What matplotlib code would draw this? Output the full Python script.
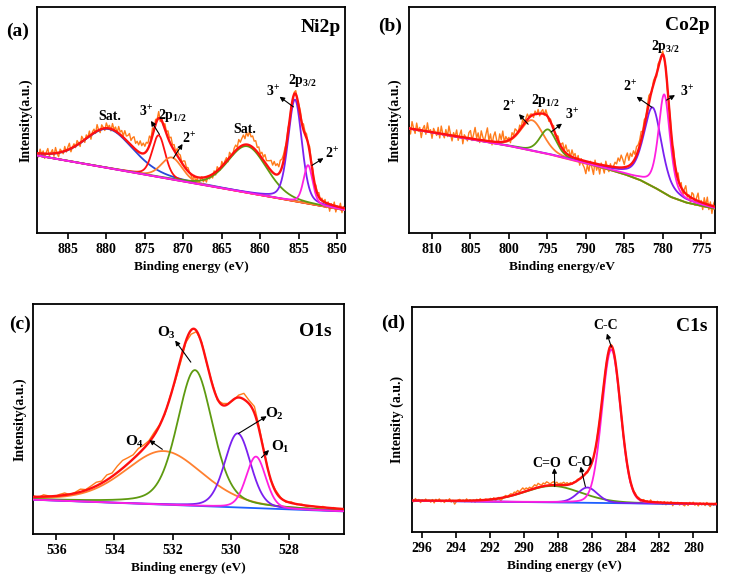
import numpy as np
import matplotlib.pyplot as plt

plt.rcParams['font.family'] = ['Liberation Serif', 'DejaVu Serif']
plt.rcParams['font.weight'] = 'bold'
plt.rcParams['mathtext.fontset'] = 'custom'
plt.rcParams['mathtext.rm'] = 'Liberation Serif:bold'
plt.rcParams['mathtext.it'] = 'Liberation Serif:bold'
plt.rcParams['mathtext.bf'] = 'Liberation Serif:bold'

RAW = '#ff7b1a'
ENV = '#ff1010'
BLUE = '#2848d8'
PURPLE = '#7a20f0'
MAGENTA = '#ff20e0'
GREEN = '#5e9a10'
ORANGE = '#ff8030'
BGBLUE = '#1f5fff'

# ---------------- (a) Ni2p ----------------
ni_xlim = (889.0, 849.0)
ni_ticks = [885, 880, 875, 870, 865, 860, 855, 850]
ni_bg_e = [889.0, 849.0]
ni_bg_y = [34.3, 10.1]
ni_center = [879.7, 873.2, 871.5, 861.7, 855.5, 853.8]
ni_height = [17.3, 18.5, 9.7, 20.6, 45.0, 17.0]
ni_fwhm = [7.5, 2.0, 3.2, 6.0, 2.1, 1.4]
ni_eta = [0.3, 0.3, 0.2, 0.2, 0.3, 0.3]
# residual of the measured spectrum around the fit, every 0.2 eV from 889 to 849
ni_resid = [0.8, -1.6, 1.9, -0.4, 1.2, -2.1, 0.6, 2.3, -0.9, 0.4, 1.7, -1.3, 2.5, -0.2, -1.8, 1.4, 0.3, -1.0, 2.0, -0.7, 1.1, 2.6, -1.5, 0.2, 1.3,
            -0.8, 1.9, 0.4, -1.6, 2.4, 0.7, -1.3, 1.5, -0.2, 2.2, -1.9, 0.9, 1.6, -0.7, 2.8, 0.1, -1.4, 1.8, 0.5, -1.0, 2.3, 0.4,
            1.4, -0.9, 2.6, 0.3, 1.8, -0.4, 3.0, 1.1, 2.4, 0.6, 3.6, 1.9, 2.8, 4.4, 2.0, 3.9, 5.0, 2.7, 4.2, 3.1, 5.3, 3.4, 4.6, 2.9, 4.0,
            2.5, 4.1, 1.0, 3.3, -0.6, 2.2, 0.4, 2.9, -1.4, 1.2, -0.3, 2.4, 0.8, 3.1, 1.6,
            3.4, 1.2, 2.6, 0.5, 3.0, 1.8, 2.4, 0.3, 1.9, 2.8, 0.9, 1.6, 0.2,
            -0.5, -2.2, 0.3, -1.8, -0.6, -2.6, -1.1, 0.4, -1.9, -0.8, -2.3, 0.1, -1.4, -0.3, -1.7,
            1.0, -1.3, 1.8, 0.2, -0.9, 2.2, -0.4, 0.9, 1.6, -1.1, 2.3, 0.5, -0.6, 1.7,
            2.4, 0.8, 3.6, 1.9, 3.2, 4.4, 2.6, 5.4, 3.8, 6.0, 4.1, 5.0, 3.3,
            4.2, 2.0, 3.1, 0.9, 2.6, 1.4, 3.5, 1.8, 2.7, 3.6,
            4.6, 3.2, 5.4, 3.9, 4.8, 3.0, 4.9, 3.6, 2.9,
            2.4, 0.6, 1.8, -0.9, 1.2, -1.3, 0.8, 1.5, -0.4, 1.0,
            2.0, 0.4, 2.6, 1.1, 1.8, -0.2, 2.3, 0.9, 1.4, -0.8, 1.6, 0.3, 2.0, -0.5, 1.1,
            -0.4, 1.3, -2.0, 0.8, -3.1, 0.5, -1.4, 1.6, -2.6, 0.2, -1.0, 1.8, -2.2, 0.7, -0.9]
ni_labels = ['Sat.', '3$^{+}$', '2p$_{1/2}$', '2$^{+}$', 'Sat.', '3$^{+}$', '2p$_{3/2}$', '2$^{+}$']
ni_label_x = [879.5, 874.8, 871.4, 869.3, 862.0, 858.3, 854.6, 850.7]
ni_label_y = [51.5, 53.5, 51.8, 41.5, 45.8, 62.5, 67.5, 35.0]
ni_arrows = [((874.2, 49.6), (873.1, 43.6)), ((870.1, 39.4), (871.3, 33.1)),
             ((857.5, 60.3), (855.7, 55.8)), ((851.8, 33.1), (853.3, 29.9))]

# ---------------- (b) Co2p ----------------
co_xlim = (813.0, 773.2)
co_ticks = [810, 805, 800, 795, 790, 785, 780, 775]
co_bg_e = [813, 805, 800, 795, 790, 787, 785, 783, 781, 779, 777, 775, 773.2]
co_bg_y = [46.2, 41.5, 38.5, 35.0, 30.7, 28.0, 26.0, 23.5, 20.0, 16.0, 13.5, 12.0, 10.7]
co_center = [797.0, 794.9, 781.3, 779.8]
co_height = [13.5, 10.9, 35.0, 43.7]
co_fwhm = [3.5, 2.5, 2.8, 1.8]
co_eta = [0.3, 0.3, 0.5, 0.5]
co_resid = [1.5, -2.4, 3.2, 0.4, -1.8, 2.9, -0.6, 1.2, -3.2, 0.8, 2.4, -1.4, 3.8, -0.2, 1.0, -2.7, 1.8, 0.3, -1.1, 2.6,
            -2.0, 3.4, 0.1, -1.6, 2.2, -0.8, 4.0, 0.6, -2.4, 1.4, -0.3, 2.8, -1.7, 0.9, 3.1, -2.9, 1.2, 0.2, -1.3, 2.5,
            3.5, -0.8, 2.0, 5.2, 0.6, 3.0, -1.2, 4.1, 1.5, -0.5, 2.8, 5.8, 0.2, 3.3, -1.5, 2.4, 4.4, 0.9, -0.9, 3.6, 1.0, 4.8, -0.2, 2.1, 0.5,
            1.2, -1.5, 2.5, 0.8, 3.0, 1.6, -0.4, 2.2, 0.4, 2.9, -0.8, 1.3, 2.4, 0.1, 1.0,
            0.6, -1.2, 1.4, -0.3, 1.9, -1.0, 0.9, 1.8, -0.6, 2.2, 0.5, -1.3, 1.1, -0.2, 1.6, -0.9, 0.7, 2.0, -0.4, 1.2,
            2.8, 0.4, 3.5, 1.2, 2.4, -0.6, 3.1, 0.8, 2.0, -1.0, 1.6, -2.5, 0.6, -1.8, -3.0,
            -5.5, -1.5, -4.0, 0.5, -2.2, -5.0, 1.5, -2.8, -0.4, -4.2, 0.8, -1.0, -3.4, 2.0, -0.6, -2.4, 1.2, -1.6, 0.3, 2.2,
            1.5, 4.2, 2.8, 5.5, 3.6, 1.2, 4.5, 6.0, 2.4, 5.1, 3.0, 4.6, 1.8, 3.8, 2.6,
            2.5, 3.8, 1.0, 2.9, 0.6, 2.2, 3.4, 1.2, -0.5, 1.6,
            1.0, -1.2, 2.0, 0.5, -0.8, 1.5, -0.3, 0.9, -1.4, 0.7,
            1.5, -2.0, 2.8, 0.2, -1.5, 3.0, -0.6, 2.2, -2.6, 1.2, 3.6, -0.9, 0.6, -2.2, 2.4,
            2.0, -2.5, 1.2, 3.5, -1.8, 0.8, -3.0, 2.5, -0.6, 3.2, -2.1, 1.5, -3.4, 0.9, 2.8]
co_labels = ['2$^{+}$', '2p$_{1/2}$', '3$^{+}$', '2$^{+}$', '2p$_{3/2}$', '3$^{+}$']
co_label_x = [800.0, 795.3, 791.8, 784.3, 779.7, 776.9]
co_label_y = [55.6, 58.8, 52.1, 64.7, 82.5, 62.5]
co_arrows = [((798.7, 52.6), (797.5, 48.1)), ((793.1, 48.4), (794.5, 44.7)),
             ((783.4, 60.3), (781.4, 55.6)), ((778.4, 61.0), (779.5, 58.8))]

# ---------------- (c) O1s ----------------
o_xlim = (536.8, 526.1)
o_ticks = [536, 534, 532, 530, 528]
o_bg_e = [536.8, 526.1]
o_bg_y = [14.9, 9.8]
o_center = [532.3, 531.23, 529.76, 529.13]
o_height = [23.3, 59.0, 32.2, 22.4]
o_fwhm = [3.2, 1.45, 1.05, 0.8]
o_eta = [0.3, 0.35, 0.2, 0.2]
o_resid = [0.6, -0.3, 0.8, 0.2, -0.4, 0.5, 0.9, -0.2, 0.4, 1.2, 0.3,
           1.0, 1.6, 0.9, 2.2, 1.5, 2.8, 3.4, 2.6, 1.8, 2.4, 1.5,
           0.8, 1.2, 0.3, -0.5, 0.4, -0.8, -1.5, -0.6, -1.8,
           -0.4, 0.6, -0.2, 0.5, -0.6, 0.8, 0.2, -0.3,
           1.0, 2.6, 1.5, 2.9, 1.2, 0.4, -0.5, 0.6,
           0.3, -0.4, 0.5, -0.2, 0.3, -0.5, 0.2, -0.3, 0.4, -0.2, 0.3, -0.4, 0.1]
o_labels = ['O$_{3}$', 'O$_{4}$', 'O$_{2}$', 'O$_{1}$']
o_label_x = [532.2, 533.3, 528.51, 528.3]
o_label_y = [87.3, 40.0, 52.1, 37.7]
o_arrows = [((531.91, 84.1), (531.37, 74.7)), ((532.8, 40.8), (532.35, 36.8)),
            ((528.76, 51.2), (529.73, 43.7)), ((528.68, 36.5), (528.94, 33.2))]

# ---------------- (d) C1s ----------------
c_xlim = (296.6, 278.6)
c_ticks = [296, 294, 292, 290, 288, 286, 284, 282, 280]
c_bg_e = [296.6, 278.6]
c_bg_y = [13.9, 12.3]
c_center = [288.3, 286.25, 284.84]
c_height = [7.3, 6.8, 68.2]
c_fwhm = [4.0, 1.4, 1.3]
c_eta = [0.2, 0.2, 0.1]
c_resid = [0.4, -0.6, 0.9, -0.2, 0.5, -0.9, 0.3, -0.4, 0.7, -0.3, 0.2, -0.7, 0.5, -1.0, 0.6, -0.2, 0.8, -0.5, 0.1, -0.8, 0.4, -0.3, 0.9, -0.6, 0.2, -1.5, -0.4, 0.3,
           0.6, -0.3, 0.3, -0.5, 0.8, -0.2, 0.4, -0.6, 0.2, -0.8, 0.5, -0.3, 0.7, -0.1, -0.6, 0.4, 0.2, -0.7, 0.5, -0.3, 0.6, -0.9, 0.1, 0.4, -1.3, -0.5, 0.3, 0.7, -0.2, 0.5,
           0.9, 0.4, 1.2, 0.8, 1.5, 0.6, 1.3, 1.9, 0.9, 1.4, 0.7, 1.2, 0.5, 1.0, 1.6, 0.8, 1.8, 1.1, 0.6, 1.4, 0.9, 1.7, 1.2, 0.5, 1.1, 1.5, 0.7, 1.3, 0.4, 0.9,
           0.8, 1.3, 0.6, 1.0, 0.2, 0.7, -0.3, 0.4, -0.2, 0.5, 0.3, -0.4, 0.2, -0.3, 0.5, -0.6, 0.3, 0.8, -0.4, 0.3, -0.5, 0.6, 0.2, -0.3, 0.4, -0.2, 0.5, -0.4, 0.3, 0.6,
           -0.4, 0.3, -0.5, 0.6, 0.8, 0.2, -0.6, 0.4, -0.3, 0.6, -0.8, 0.3, -0.4, 0.7, -0.2, 0.5, -0.7, 0.2, 0.6, -0.3, 0.4, -0.5, 0.9, -0.1, 0.3, -0.6, 0.5, -0.2, 0.4, -0.8,
           0.5, -0.9, 0.3, -0.4, 0.6, -1.2, 0.2, -0.5, 0.4, -0.8, 0.3, -0.6, -1.1, 0.2, -0.9, 0.5, -0.3, 0.6, -0.7, 0.1, -1.0, 0.4, -0.5, 0.3, -0.8, 0.6, -0.4, -1.2, 0.2, -0.6, 0.4, -0.9]
c_labels = ['C-C', 'C=O', 'C-O']
c_label_x = [285.2, 288.63, 286.7]
c_label_y = [91.6, 30.3, 31.0]
c_arrows = [((285.1, 88.2), (284.84, 82.3)), ((288.2, 28.4), (288.18, 20.2)),
            ((286.65, 29.1), (286.37, 20.2))]


def pseudo_voigt(e, c, h, w, eta):
    x = (e - c) / w
    return h * (eta / (1 + 4 * x**2) + (1 - eta) * np.exp(-4 * np.log(2) * x**2))


def draw_panel(ax, xlim, ticks, bg_e, bg_y, centers, heights, fwhms, etas, colors,
               bg_color, resid, labels, lx, ly, arrows, label_size):
    e = np.linspace(xlim[0], xlim[1], 1500)
    bg = np.interp(e, bg_e[::-1], bg_y[::-1])
    comps = [pseudo_voigt(e, c, h, w, m) for c, h, w, m in zip(centers, heights, fwhms, etas)]

    # measured spectrum = fit + residual at each sampled energy
    e_raw = np.linspace(xlim[0], xlim[1], len(resid))
    raw = np.interp(e_raw, bg_e[::-1], bg_y[::-1]) + np.array(resid)
    for c, h, w, m in zip(centers, heights, fwhms, etas):
        raw = raw + pseudo_voigt(e_raw, c, h, w, m)

    ax.plot(e_raw, raw, color=RAW, lw=1.0, zorder=1)
    ax.plot(e, bg, color=bg_color, lw=1.3, zorder=2)
    for comp, col in zip(comps, colors):
        ax.plot(e, bg + comp, color=col, lw=1.3, zorder=3)
    ax.plot(e, bg + np.sum(comps, axis=0), color=ENV, lw=1.7, zorder=4)

    for s, x, y in zip(labels, lx, ly):
        ax.text(x, y, s, ha='center', va='center', fontsize=label_size, fontweight='bold', zorder=6)
    for head, tail in arrows:
        ax.annotate('', xy=head, xytext=tail,
                    arrowprops=dict(arrowstyle='-|>', color='black', lw=0.8,
                                    mutation_scale=7, shrinkA=0, shrinkB=0), zorder=6)

    ax.set_xlim(xlim)
    ax.set_ylim(0, 100)
    ax.set_xticks(ticks)
    ax.set_yticks([])
    ax.tick_params(axis='x', direction='out', length=4, width=1.2, labelsize=10, pad=3)
    for lab in ax.get_xticklabels():
        lab.set_fontweight('bold')
    for sp in ax.spines.values():
        sp.set_linewidth(1.3)


fig = plt.figure(figsize=(7.29, 5.82), dpi=100)
ax_a = fig.add_axes([0.0508, 0.5997, 0.4225, 0.3883])
ax_b = fig.add_axes([0.5610, 0.5997, 0.4198, 0.3883])
ax_c = fig.add_axes([0.0453, 0.0825, 0.4266, 0.3952])
ax_d = fig.add_axes([0.5652, 0.0859, 0.4184, 0.3866])

draw_panel(ax_a, ni_xlim, ni_ticks, ni_bg_e, ni_bg_y, ni_center, ni_height, ni_fwhm, ni_eta,
           [BLUE, ENV, ORANGE, GREEN, PURPLE, MAGENTA], ENV, ni_resid,
           ni_labels, ni_label_x, ni_label_y, ni_arrows, 10)
draw_panel(ax_b, co_xlim, co_ticks, co_bg_e, co_bg_y, co_center, co_height, co_fwhm, co_eta,
           [ORANGE, GREEN, PURPLE, MAGENTA], ORANGE, co_resid,
           co_labels, co_label_x, co_label_y, co_arrows, 10)
draw_panel(ax_c, o_xlim, o_ticks, o_bg_e, o_bg_y, o_center, o_height, o_fwhm, o_eta,
           [ORANGE, GREEN, PURPLE, MAGENTA], BGBLUE, o_resid,
           o_labels, o_label_x, o_label_y, o_arrows, 11)
draw_panel(ax_d, c_xlim, c_ticks, c_bg_e, c_bg_y, c_center, c_height, c_fwhm, c_eta,
           [GREEN, PURPLE, MAGENTA], BGBLUE, c_resid,
           c_labels, c_label_x, c_label_y, c_arrows, 10)

ax_a.set_xlabel('Binding energy (eV)', fontsize=9.5, fontweight='bold', labelpad=4)
ax_b.set_xlabel('Binding energy/eV', fontsize=9.5, fontweight='bold', labelpad=4)
ax_c.set_xlabel('Binding energy (eV)', fontsize=9.5, fontweight='bold', labelpad=4)
ax_d.set_xlabel('Binding energy (eV)', fontsize=9.5, fontweight='bold', labelpad=4)
ax_a.set_ylabel('Intensity(a.u.)', fontsize=10, fontweight='bold', labelpad=3)
ax_b.set_ylabel('Intensity(a.u.)', fontsize=10, fontweight='bold', labelpad=5)
ax_c.set_ylabel('Intensity(a.u.)', fontsize=10, fontweight='bold', labelpad=5)
ax_d.set_ylabel('Intensity (a.u.)', fontsize=10, fontweight='bold', labelpad=6)

for ax, name, xy in [(ax_a, 'Ni2p', (0.92, 0.91)), (ax_b, 'Co2p', (0.91, 0.92)),
                     (ax_c, 'O1s', (0.907, 0.88)), (ax_d, 'C1s', (0.917, 0.912))]:
    ax.text(xy[0], xy[1], name, transform=ax.transAxes, ha='center', va='center',
            fontsize=14, fontweight='bold')

for tag, xy in [('(a)', (0.024, 0.947)), ('(b)', (0.535, 0.954)),
                ('(c)', (0.027, 0.442)), ('(d)', (0.539, 0.445))]:
    fig.text(xy[0], xy[1], tag, ha='center', va='center', fontsize=14, fontweight='bold')

fig.savefig('out.png', dpi=100)
